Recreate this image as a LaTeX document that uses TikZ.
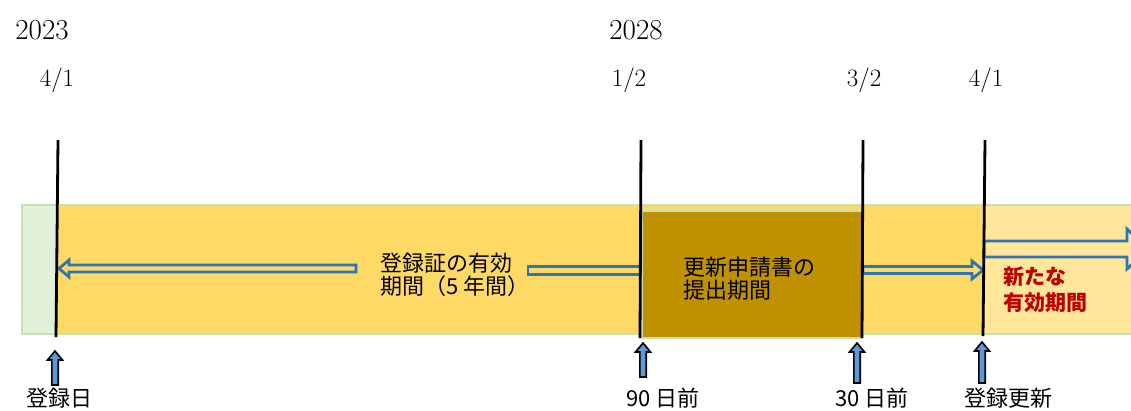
\documentclass[tikz,border=0pt]{standalone}
\usepackage{fontspec}
\newfontfamily\cjk{Noto Sans CJK JP}
\definecolor{bandgreen}{HTML}{C5E0B4}
\definecolor{lightgreen}{HTML}{E2F0D9}
\definecolor{gold}{HTML}{FFD966}
\definecolor{paleyellow}{HTML}{FFE699}
\definecolor{darkgold}{HTML}{BF9000}
\definecolor{arrowblue}{HTML}{2E75B6}
\definecolor{upblue}{HTML}{5B9BD5}
\definecolor{darkred}{HTML}{C00000}
\newcommand\myuparrow[4]{% name, x, ytop, ybottom
  \draw[uparr] (#2-3.2,#4) -- (#2-3.2,#3+9) -- (#2-7.5,#3+9) -- (#2,#3) -- (#2+7.5,#3+9) -- (#2+3.2,#3+9) -- (#2+3.2,#4) -- cycle;
  \coordinate (#1) at (#2,#3);}
\begin{document}
\begin{tikzpicture}[x=1pt,y=-1pt,
  yearlbl/.style={inner sep=0pt,anchor=base,font=\fontsize{29}{30}\selectfont},
  datelbl/.style={inner sep=0pt,anchor=base,font=\fontsize{25}{26}\selectfont},
  footlbl/.style={inner sep=0pt,anchor=base,font=\cjk\fontsize{22}{23}\selectfont},
  midlbl/.style={inner sep=0pt,anchor=west,align=left,font=\cjk\fontsize{22}{23}\selectfont},
  newlbl/.style={inner sep=0pt,anchor=west,align=left,text=darkred,font=\cjk\bfseries\fontsize{21}{26}\selectfont},
  dateline/.style={line width=2.8pt,black},
  hollow/.style={draw=arrowblue,line width=2.8pt,fill=gold,line join=miter},
  uparr/.style={draw=black,line width=1.6pt,fill=upblue,line join=miter}]
\useasboundingbox (0,0) rectangle (1131,410);
\clip (0,0) rectangle (1131,410);
% band
\fill[lightgreen] (22,205) rectangle (57,334);
\fill[gold] (57,205) rectangle (985,334);
\fill[paleyellow] (985,205) rectangle (1135,334);
\draw[bandgreen,line width=2.5pt] (22,205) rectangle (1145,334);
% application period box
\draw[fill=darkgold,draw=bandgreen,line width=2pt] (642,211) rectangle (862,338);
% hollow arrows
\draw[hollow] (356,265) -- (69,265) -- (69,260) -- (59,268.5) -- (69,277) -- (69,272) -- (356,272) -- cycle;
\draw[hollow] (528,266.5) rectangle (641,274.5);
\draw[hollow] (863,266.5) -- (972,266.5) -- (972,261) -- (983,270) -- (972,279) -- (972,273.5) -- (863,273.5) -- cycle;
\draw[hollow,fill=paleyellow] (984,241) -- (1127,241) -- (1127,229) -- (1148,249) -- (1127,269) -- (1127,257) -- (984,257) -- cycle;
% date lines
\coordinate (t1) at (58,140); \coordinate (b1) at (56,337);
\coordinate (t2) at (641,140); \coordinate (b2) at (640,338);
\coordinate (t3) at (863,140); \coordinate (b3) at (862,338);
\coordinate (t4) at (985,140); \coordinate (b4) at (983,336);
\draw[dateline] (t1) -- (b1);
\draw[dateline] (t2) -- (b2);
\draw[dateline] (t3) -- (b3);
\draw[dateline] (t4) -- (b4);
% top labels
\node[yearlbl] (y1) at (42,39) {2023};
\node[yearlbl] (y2) at (636,39) {2028};
\node[datelbl] (d1) at (57,86) {4/1};
\node[datelbl] (d2) at (629,86) {1/2};
\node[datelbl] (d3) at (864,86) {3/2};
\node[datelbl] (d4) at (986,86) {4/1};
% texts inside band
\node[midlbl] (valid) at (380,274.5) {登録証の有効\\期間（5 年間）};
\node[midlbl] (apply) at (683,278.5) {更新申請書の\\提出期間};
\node[newlbl] (newvalid) at (1003,290) {新たな\\有効期間};
% up arrows
\myuparrow{u1}{55}{351}{385}
\myuparrow{u2}{643}{343}{377}
\myuparrow{u3}{857}{343}{383}
\myuparrow{u4}{982}{342}{383}
% bottom labels
\node[footlbl] (f1) at (59,406) {登録日};
\node[footlbl] (f2) at (663,406) {90 日前};
\node[footlbl] (f3) at (872,406) {30 日前};
\node[footlbl] (f4) at (1008,406) {登録更新};
\end{tikzpicture}
\end{document}
